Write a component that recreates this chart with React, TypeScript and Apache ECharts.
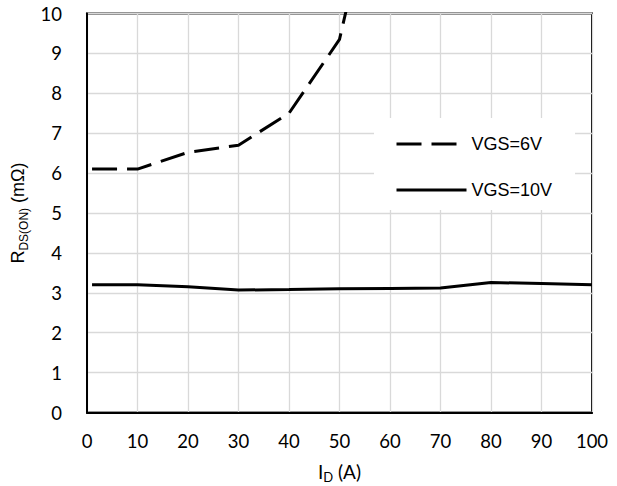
import React, { useEffect, useRef } from "react";
import * as echarts from "echarts";

const xTicks = [0, 10, 20, 30, 40, 50, 60, 70, 80, 90, 100];
const vgs6X = [1, 10, 20, 30, 40, 50, 52];
const vgs6Y = [6.1, 6.1, 6.52, 6.7, 7.5, 9.35, 10.45];
const vgs10X = [1, 10, 20, 30, 40, 50, 60, 70, 80, 90, 100];
const vgs10Y = [3.2, 3.2, 3.15, 3.07, 3.08, 3.1, 3.11, 3.12, 3.26, 3.23, 3.2];
const seriesNames = ["VGS=6V", "VGS=10V"];

export default function App() {
  const ref = useRef<HTMLDivElement>(null);
  useEffect(() => {
    if (!ref.current) return;
    const chart = echarts.init(ref.current, undefined, { renderer: "svg" });
    const tickFont = { fontFamily: "Lato", fontSize: 18.5, color: "#000" };
    chart.setOption({
      animation: false,
      backgroundColor: "#fff",
      grid: {
        left: 87,
        right: 25,
        top: 13.5,
        bottom: 73.5,
        show: true,
        borderColor: "#000",
        borderWidth: 2,
        backgroundColor: "transparent",
        containLabel: false,
        outerBoundsMode: "none",
      },
      xAxis: {
        type: "value",
        min: xTicks[0],
        max: xTicks[xTicks.length - 1],
        interval: 10,
        axisLine: { show: true, lineStyle: { color: "#000", width: 2 } },
        axisTick: { show: false },
        axisLabel: { ...tickFont, margin: 19 },
        splitLine: { show: true, lineStyle: { color: "#d9d9d9", width: 1.3 } },
        name: "{m|I}{s|D}{m| (A)}",
        nameLocation: "middle",
        nameGap: 47,
        nameTextStyle: {
          rich: {
            m: { fontFamily: "Lato", fontSize: 19, color: "#000", lineHeight: 24 },
            s: { fontFamily: "Lato", fontSize: 13, color: "#000", lineHeight: 14, verticalAlign: "bottom" },
          },
        },
      },
      yAxis: {
        type: "value",
        min: 0,
        max: 10,
        interval: 1,
        axisLine: { show: true, lineStyle: { color: "#000", width: 2 } },
        axisTick: { show: false },
        axisLabel: { ...tickFont, margin: 25 },
        splitLine: { show: true, lineStyle: { color: "#d9d9d9", width: 1.3 } },
        name: "{m|R}{s|DS(ON)}{m| (mΩ)}",
        nameLocation: "middle",
        nameGap: 52,
        nameRotate: 90,
        nameTextStyle: {
          rich: {
            m: { fontFamily: "Liberation Sans", fontSize: 18, color: "#000", lineHeight: 24 },
            s: { fontFamily: "Liberation Sans", fontSize: 12, color: "#000", lineHeight: 14, verticalAlign: "bottom" },
          },
        },
      },
      legend: {
        orient: "vertical",
        left: 374,
        top: 118,
        padding: [16, 23, 10, 21],
        backgroundColor: "#fff",
        itemWidth: 70,
        itemHeight: 20,
        itemGap: 26,
        data: seriesNames,
        itemStyle: { opacity: 0 },
        lineStyle: { width: 3 },
        textStyle: { fontFamily: "Liberation Sans", fontSize: 18, color: "#000", lineHeight: 20 },
      },
      series: [
        {
          name: seriesNames[0],
          type: "line",
          data: vgs6X.map((x, i) => [x, vgs6Y[i]]),
          symbol: "none",
          clip: true,
          lineStyle: { color: "#000", width: 3, type: [25, 10], cap: "butt" },
          itemStyle: { color: "#000" },
        },
        {
          name: seriesNames[1],
          type: "line",
          data: vgs10X.map((x, i) => [x, vgs10Y[i]]),
          symbol: "none",
          clip: true,
          lineStyle: { color: "#000", width: 3 },
          itemStyle: { color: "#000" },
        },
      ],
    });
    return () => chart.dispose();
  }, []);
  return (
    <div
      ref={ref}
      style={{ position: "absolute", left: 0, top: 0, width: 617, height: 486 }}
    />
  );
}
